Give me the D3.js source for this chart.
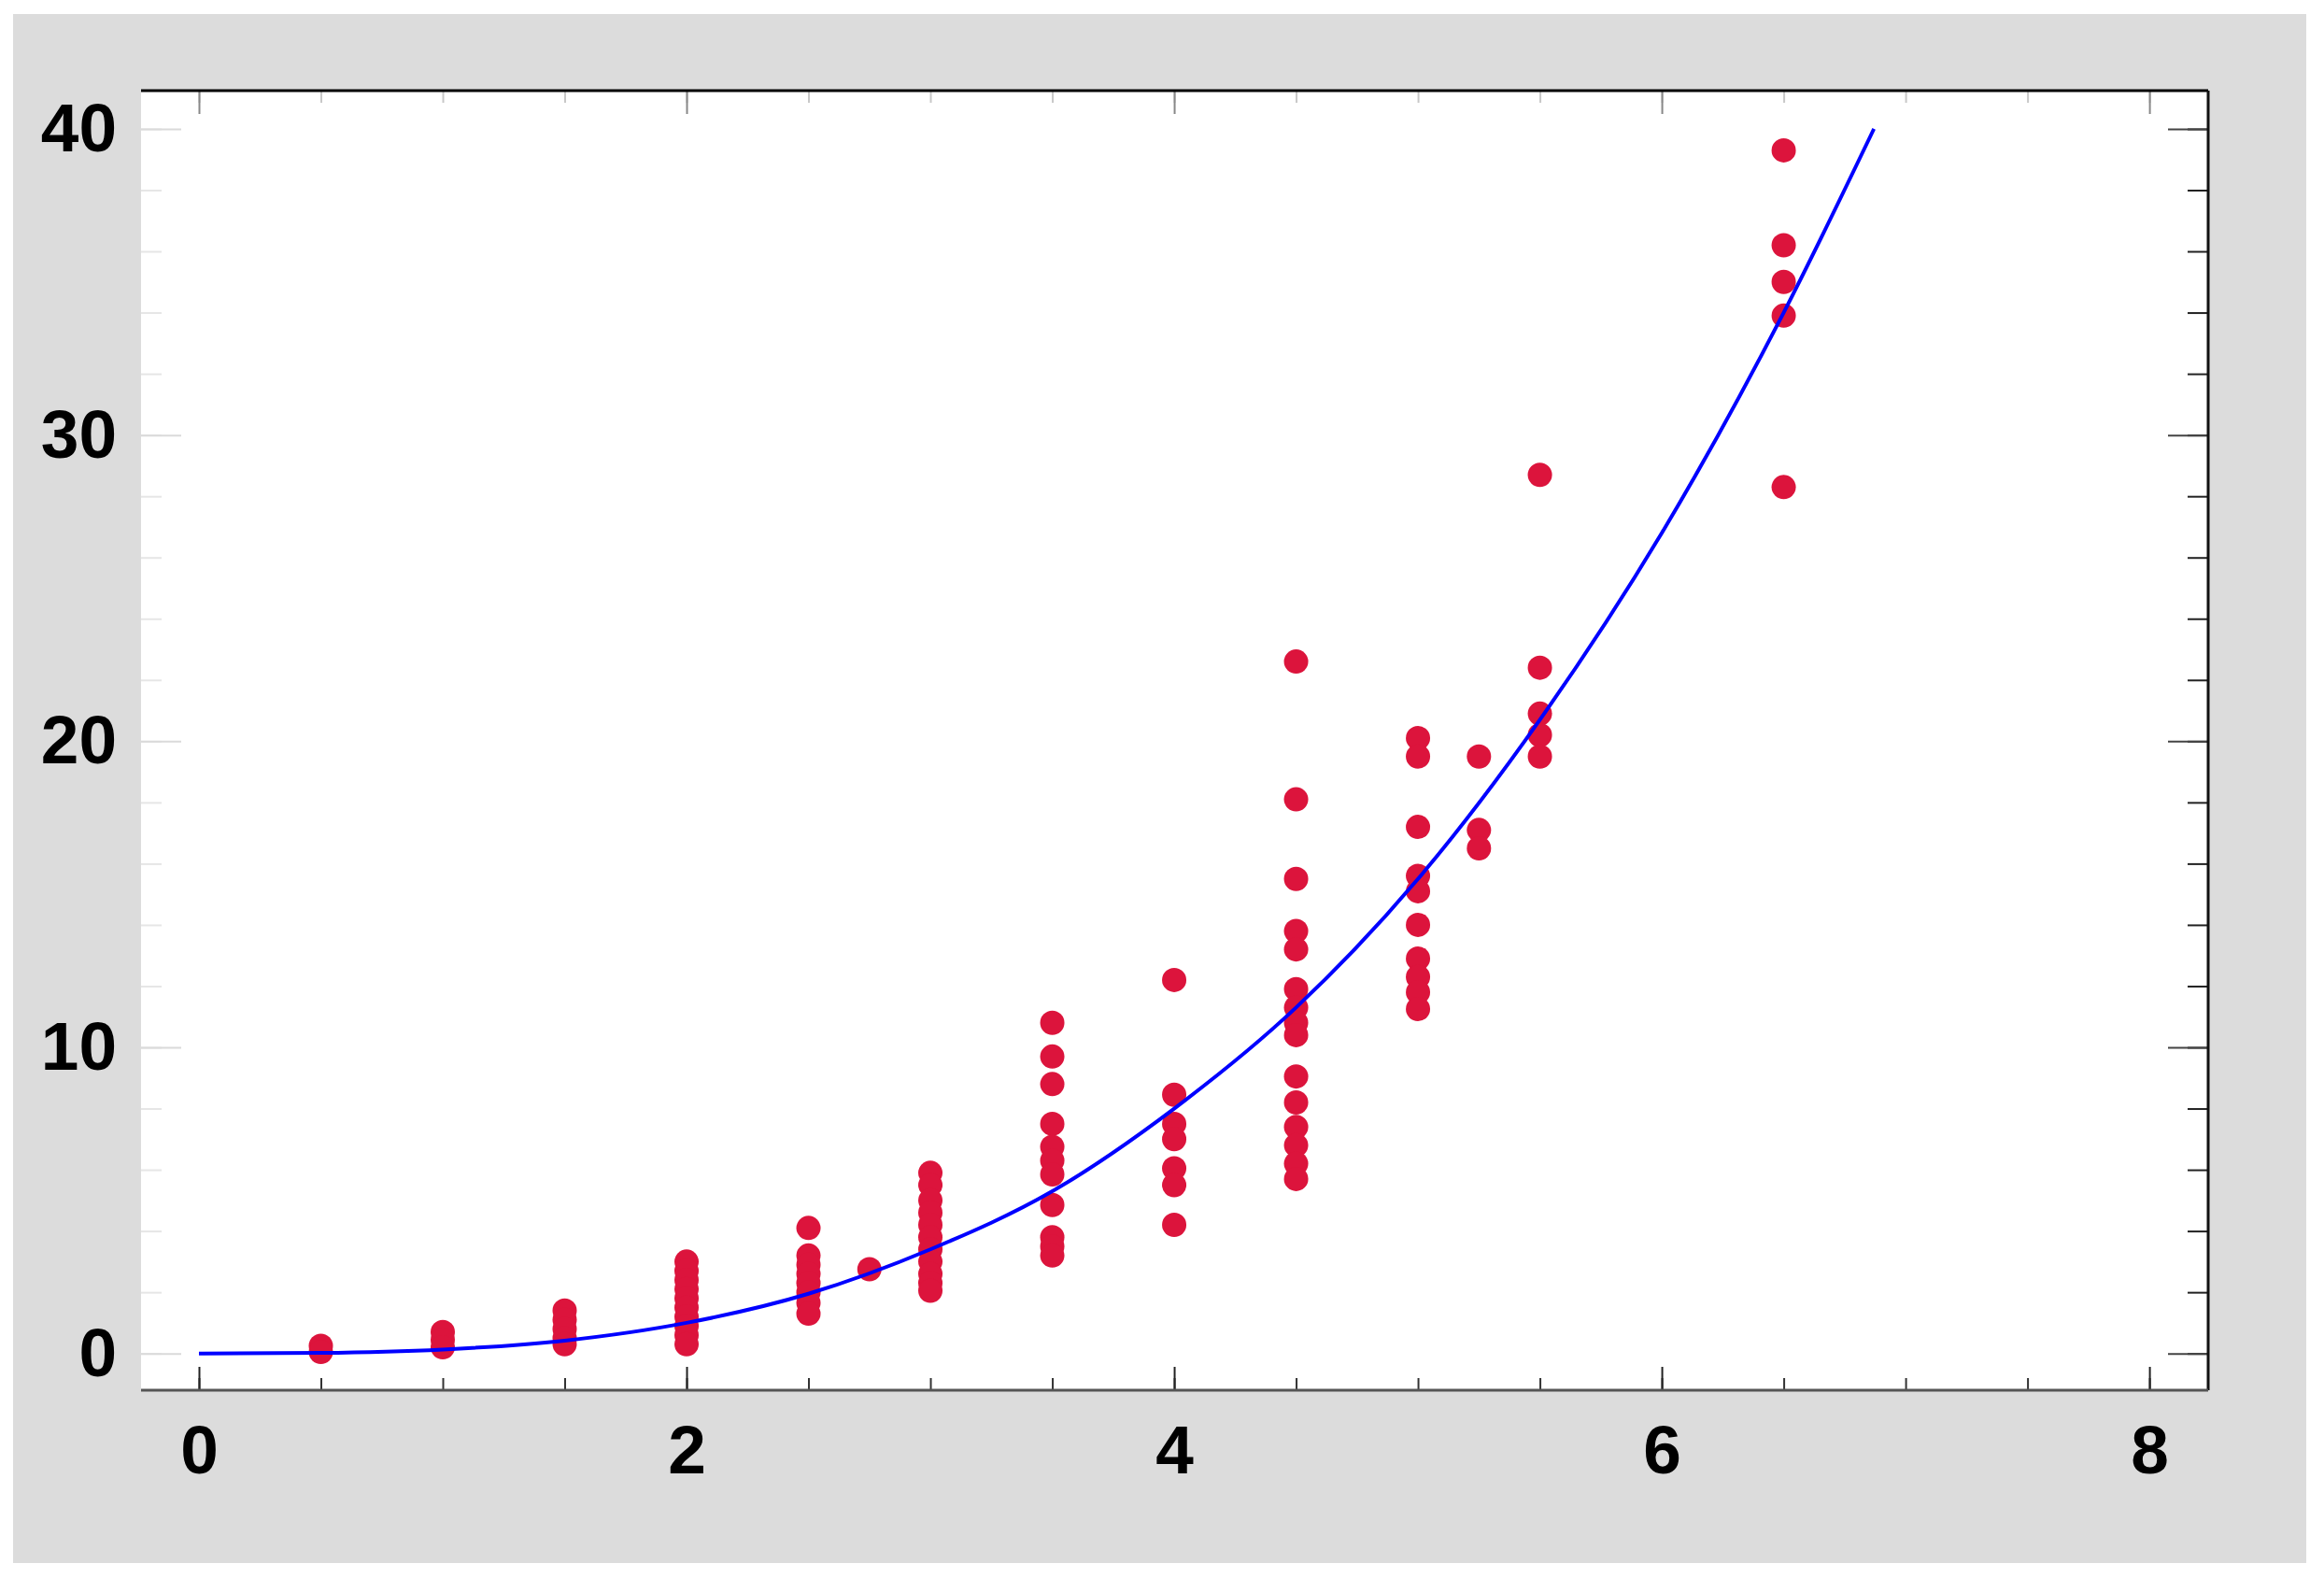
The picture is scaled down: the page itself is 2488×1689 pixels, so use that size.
<!DOCTYPE html>
<html>
<head>
<meta charset="utf-8">
<script src="https://cdn.jsdelivr.net/npm/d3@7"></script>
<style>
  body { margin: 0; background: #fff; }
  .lbl text { font-family: "Liberation Sans", Arial, sans-serif; font-weight: bold; font-size: 73px; fill: #000; }
  .tk line { stroke-width: 2px; }
</style>
</head>
<body>
<div id="plot"></div>
<script>
// dose groups (x) and the measured values in each group (y)
const groupX = [0.5, 1, 1.5, 2, 2.5, 2.75, 3, 3.5, 4, 4.5, 5, 5.25, 5.5, 6.5];
const groupY = [
  [0.25, 0.05],
  [0.7, 0.45, 0.2],
  [1.4, 1.1, 0.8, 0.5, 0.3],
  [3.0, 2.7, 2.4, 2.1, 1.8, 1.5, 1.2, 0.9, 0.6, 0.3],
  [4.1, 3.2, 2.9, 2.6, 2.3, 2.0, 1.65, 1.3],
  [2.75],
  [5.9, 5.5, 5.0, 4.6, 4.2, 3.8, 3.4, 3.0, 2.6, 2.3, 2.05],
  [10.8, 9.7, 8.8, 7.5, 6.75, 6.3, 5.85, 4.85, 3.8, 3.5, 3.2],
  [12.2, 8.45, 7.5, 7.0, 6.05, 5.5, 4.2],
  [22.6, 18.1, 15.5, 13.8, 13.2, 11.9, 11.3, 10.8, 10.4, 9.05, 8.2, 7.4, 6.8, 6.2, 5.7],
  [20.1, 19.5, 17.2, 15.6, 15.1, 14.0, 12.9, 12.3, 11.8, 11.25],
  [19.5, 17.1, 16.5],
  [28.7, 22.4, 20.9, 20.2, 19.5],
  [39.3, 36.2, 35.0, 33.9, 28.3]
];

// fitted curve
const fitX = [0, 0.5, 1, 1.5, 2, 2.5, 3, 3.5, 4, 4.5, 5, 5.5, 6, 6.5, 6.87];
const fitY = [0, 0.02, 0.13, 0.42, 1.0, 1.95, 3.4, 5.3, 8.0, 11.3, 15.5, 20.7, 26.8, 34.0, 40.0];

// tick labels
const xTicks = [0, 2, 4, 6, 8];
const yTicks = [0, 10, 20, 30, 40];

const W = 2488, H = 1689;
const plot = {left: 151, top: 97, right: 2364, bottom: 1488};

let svg = d3.select("#plot")
  .append("svg")
  .attr("width", W)
  .attr("height", H);

// grey panel and white plot area
svg.append("rect").attr("x", 14).attr("y", 15).attr("width", 2455).attr("height", 1658).attr("fill", "#dcdcdc");
svg.append("rect").attr("x", plot.left).attr("y", plot.top)
  .attr("width", plot.right - plot.left).attr("height", plot.bottom - plot.top).attr("fill", "#fff");

var x = d3.scaleLinear().domain([-0.2375, 8.241]).range([plot.left, plot.right]);
var y = d3.scaleLinear().domain([-1.2, 41.25]).range([plot.bottom, plot.top]);

const minorX = d3.range(0, 8.01, 0.5);
const minorY = d3.range(0, 40.1, 2);

function tickAxis(axis, pos, vals, size, color) {
  svg.append("g")
    .attr("class", "tk")
    .attr("transform", pos)
    .call(axis.tickValues(vals).tickSize(size).tickFormat(""))
    .call(g => g.select(".domain").remove())
    .selectAll("line").attr("stroke", color);
}

// ticks on all four sides, pointing inward
tickAxis(d3.axisBottom(x), "translate(0," + plot.bottom + ")", minorX, -13, "#333");
tickAxis(d3.axisBottom(x), "translate(0," + plot.bottom + ")", xTicks, -25, "#222");
tickAxis(d3.axisTop(x), "translate(0," + plot.top + ")", minorX, -13, "#c8c8c8");
tickAxis(d3.axisTop(x), "translate(0," + plot.top + ")", xTicks, -25, "#888");
tickAxis(d3.axisRight(y), "translate(" + plot.right + ",0)", minorY, -22, "#222");
tickAxis(d3.axisRight(y), "translate(" + plot.right + ",0)", yTicks, -43, "#444");
tickAxis(d3.axisLeft(y), "translate(" + plot.left + ",0)", minorY, -22, "#e6e6e6");
tickAxis(d3.axisLeft(y), "translate(" + plot.left + ",0)", yTicks, -43, "#dadada");

// frame: top and right black, bottom dark grey
svg.append("line").attr("x1", plot.left).attr("x2", plot.right).attr("y1", plot.top).attr("y2", plot.top)
  .attr("stroke", "#000").attr("stroke-width", 3);
svg.append("line").attr("x1", plot.right).attr("x2", plot.right).attr("y1", plot.top).attr("y2", plot.bottom)
  .attr("stroke", "#111").attr("stroke-width", 3);
svg.append("line").attr("x1", plot.left).attr("x2", plot.right).attr("y1", plot.bottom).attr("y2", plot.bottom)
  .attr("stroke", "#555").attr("stroke-width", 3);

// tick labels
svg.append("g")
  .attr("class", "lbl")
  .attr("transform", "translate(0," + plot.bottom + ")")
  .call(d3.axisBottom(x).tickValues(xTicks).tickSize(0).tickPadding(37))
  .call(g => g.select(".domain").remove());
svg.append("g")
  .attr("class", "lbl")
  .attr("transform", "translate(" + plot.left + ",0)")
  .call(d3.axisLeft(y).tickValues(yTicks).tickSize(0).tickPadding(26))
  .call(g => g.select(".domain").remove());

// flatten the groups into points
let points = [];
groupX.forEach(function(gx, i) {
  groupY[i].forEach(function(v) { points.push({x: gx, y: v}); });
});

svg.append("g")
  .selectAll("circle")
  .data(points)
  .enter()
  .append("circle")
  .attr("cx", d => x(d.x))
  .attr("cy", d => y(d.y))
  .attr("r", 13)
  .attr("fill", "#dc143c");

// fitted curve on top
let fit = fitX.map((v, i) => [v, fitY[i]]);
svg.append("path")
  .datum(fit)
  .attr("fill", "none")
  .attr("stroke", "#0000ff")
  .attr("stroke-width", 4)
  .attr("d", d3.line().x(d => x(d[0])).y(d => y(d[1])).curve(d3.curveMonotoneX));
</script>
</body>
</html>
